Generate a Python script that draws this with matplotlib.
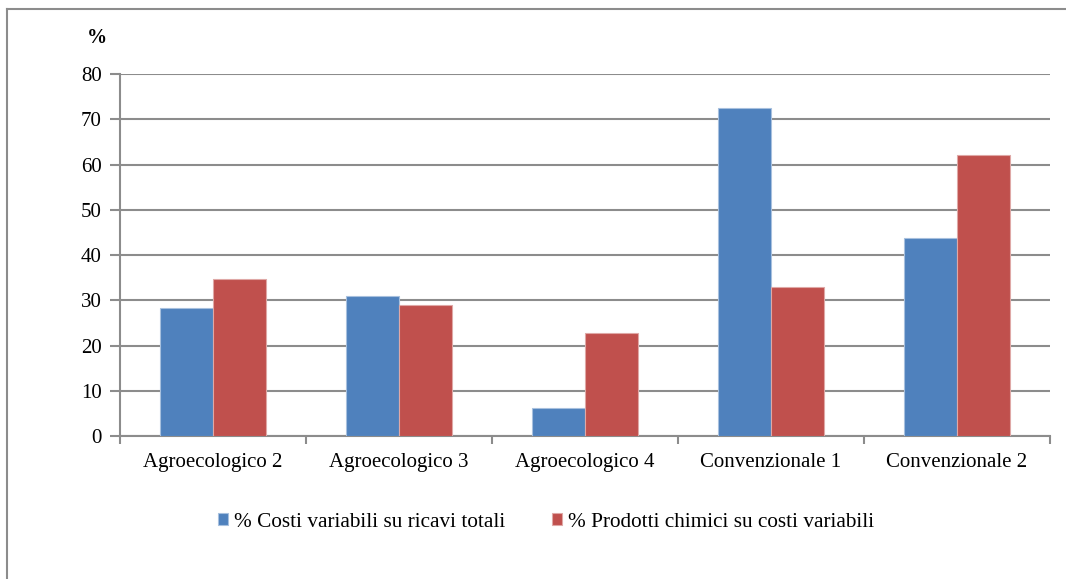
import matplotlib.pyplot as plt
import numpy as np
from matplotlib.lines import Line2D

# Dati
categorie = ['Agroecologico 2', 'Agroecologico 3', 'Agroecologico 4',
             'Convenzionale 1', 'Convenzionale 2']
costi_variabili = [28.4, 30.9, 6.2, 72.5, 43.8]
prodotti_chimici = [34.6, 29.0, 22.8, 33.0, 62.2]
etichette = ['% Costi variabili su ricavi totali',
             '% Prodotti chimici su costi variabili']

plt.rcParams['font.family'] = ['Liberation Serif', 'DejaVu Serif']

fig = plt.figure(figsize=(10.66, 5.79), dpi=100)
ax = fig.add_axes([0.1126, 0.247, 0.8724, 0.625])

x = np.arange(len(categorie))
w = 0.285
ax.bar(x - w / 2, costi_variabili, w, color='#4F81BD', edgecolor='#A7C0DE',
       linewidth=0.8, label=etichette[0], zorder=3)
ax.bar(x + w / 2, prodotti_chimici, w, color='#C0504D', edgecolor='#DFA8A6',
       linewidth=0.8, label=etichette[1], zorder=3)

ax.set_xlim(-0.5, len(categorie) - 0.5)
ax.set_ylim(0, 80)
ax.set_yticks(range(0, 81, 10))
ax.grid(axis='y', color='#8C8C8C', linewidth=1.5, zorder=0)

ax.set_xticks(x)
ax.set_xticklabels(categorie, fontsize=15)
ax.set_xticks(np.arange(-0.5, len(categorie)), minor=True)
ax.tick_params(axis='x', which='major', length=0, pad=12)
ax.tick_params(axis='x', which='minor', length=6, width=1.5, color='#8C8C8C')
ax.tick_params(axis='y', length=7, width=1.5, color='#8C8C8C', labelsize=15, pad=6)

for s in ['top', 'right']:
    ax.spines[s].set_visible(False)
for s in ['left', 'bottom']:
    ax.spines[s].set_color('#8C8C8C')
    ax.spines[s].set_linewidth(1.5)

fig.text(0.091, 0.934, '%', fontsize=14.5, fontweight='bold', ha='center', va='center')

fig.legend(loc='center', bbox_to_anchor=(0.512, 0.098), ncol=2, frameon=False,
           fontsize=15.3, handlelength=0.5, handleheight=0.5, handletextpad=0.25,
           columnspacing=2.2)

# Bordo del grafico
fig.add_artist(Line2D([0.0066, 1.0], [0.984, 0.984], color='#8C8C8C', linewidth=1.5))
fig.add_artist(Line2D([0.0066, 0.0066], [0.0, 0.984], color='#8C8C8C', linewidth=1.5))

fig.savefig('out.png', dpi=100)
